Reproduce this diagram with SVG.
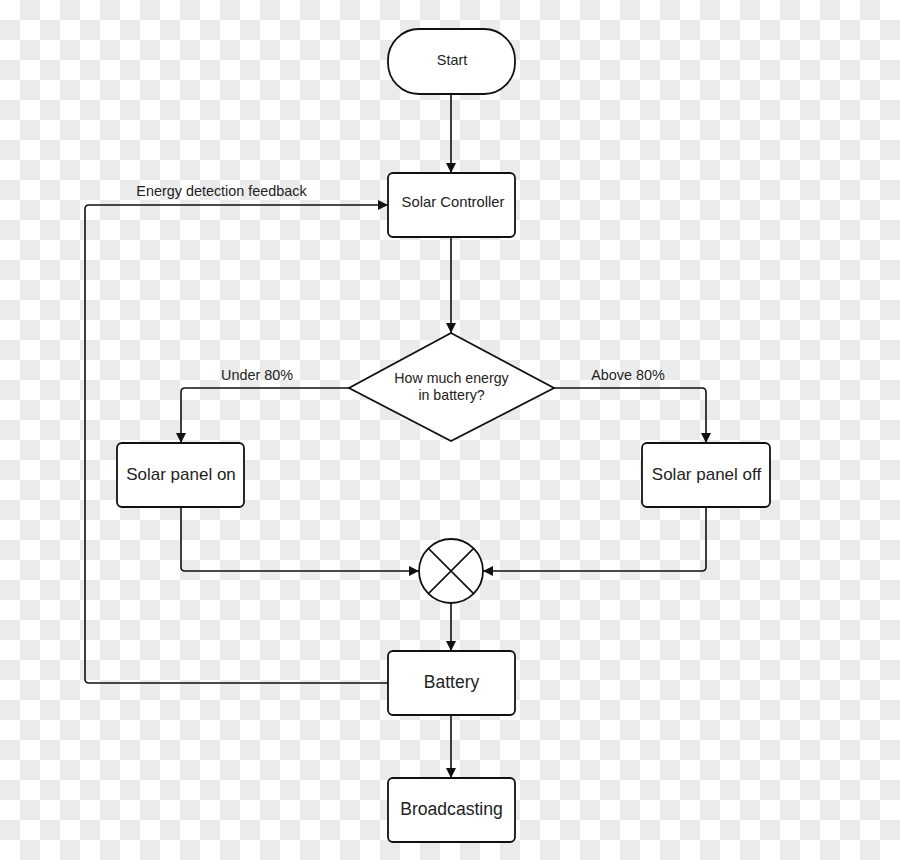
<svg xmlns="http://www.w3.org/2000/svg" width="900" height="860" viewBox="0 0 900 860">
<defs>
<pattern id="chk" width="40" height="40" patternUnits="userSpaceOnUse">
<rect width="40" height="40" fill="#ffffff"/>
<rect x="20" y="0" width="20" height="20" fill="#ebebeb"/>
<rect x="0" y="20" width="20" height="20" fill="#ebebeb"/>
</pattern>
<marker id="ah" viewBox="0 0 10 10" refX="10" refY="5" markerWidth="10" markerHeight="10" markerUnits="userSpaceOnUse" orient="auto">
<path d="M0,0 L10,5 L0,10 Z" fill="#111"/>
</marker>
<style>
.shape{fill:#fff;stroke:#111;stroke-width:1.8}
.conn{fill:none;stroke:#111;stroke-width:1.6;marker-end:url(#ah)}
.line{fill:none;stroke:#111;stroke-width:1.6}
text{font-family:"Liberation Sans",Arial,sans-serif;fill:#222;text-anchor:middle}
.lbl{font-size:14.4px}
</style>
</defs>
<rect width="900" height="860" fill="url(#chk)"/>
<g id="connectors">
<path class="conn" d="M451,94 L451,173"/>
<path class="conn" d="M451,237 L451,333"/>
<path class="conn" d="M349,388 L185,388 Q181,388 181,392 L181,443"/>
<path class="conn" d="M554,388 L702,388 Q706,388 706,392 L706,443"/>
<path class="conn" d="M181,507 L181,567 Q181,571 185,571 L419,571"/>
<path class="conn" d="M706,507 L706,567 Q706,571 702,571 L483,571"/>
<path class="conn" d="M451,603 L451,651"/>
<path class="conn" d="M388,683 L89,683 Q85,683 85,679 L85,209 Q85,205 89,205 L388,205"/>
<path class="conn" d="M451,715 L451,778"/>
<text class="lbl" x="221.5" y="196">Energy detection feedback</text>
<text class="lbl" x="257" y="380">Under 80%</text>
<text class="lbl" x="628" y="380">Above 80%</text>
</g>
<g id="start">
<rect class="shape" x="388" y="29" width="127" height="65" rx="31" ry="31"/>
<text x="452" y="65" font-size="14.4">Start</text>
</g>
<g id="solar-controller">
<rect class="shape" x="388" y="173" width="127" height="64" rx="5"/>
<text x="453" y="207" font-size="14.8">Solar Controller</text>
</g>
<g id="decision">
<polygon class="shape" points="451,333 554,388 451,441 349,388"/>
<text x="451.5" y="383" font-size="14.2">How much energy</text>
<text x="451.5" y="400" font-size="14.2">in battery?</text>
</g>
<g id="solar-panel-on">
<rect class="shape" x="117" y="443" width="127" height="64" rx="5"/>
<text x="181" y="480" font-size="17">Solar panel on</text>
</g>
<g id="solar-panel-off">
<rect class="shape" x="642" y="443" width="128" height="64" rx="5"/>
<text x="706.5" y="480" font-size="17">Solar panel off</text>
</g>
<g id="junction">
<circle class="shape" cx="451" cy="571" r="32"/>
<path class="line" d="M428.4,548.4 L473.6,593.6 M473.6,548.4 L428.4,593.6"/>
</g>
<g id="battery">
<rect class="shape" x="388" y="651" width="127" height="64" rx="5"/>
<text x="451.5" y="688" font-size="17.5">Battery</text>
</g>
<g id="broadcasting">
<rect class="shape" x="388" y="778" width="127" height="64" rx="5"/>
<text x="451.5" y="815" font-size="17.6">Broadcasting</text>
</g>
</svg>
